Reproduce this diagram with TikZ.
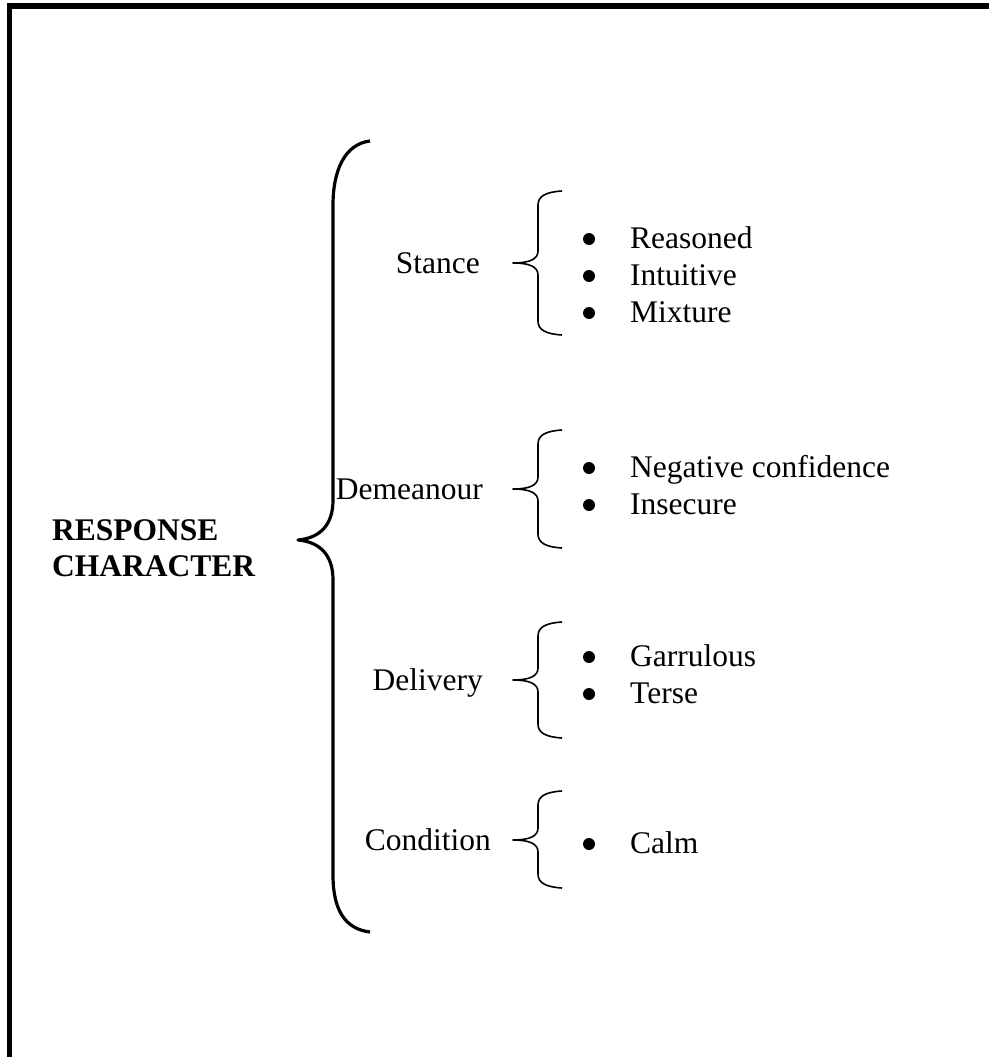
\documentclass[tikz,border=0pt]{standalone}
\usepackage{fontspec}
\setmainfont{Liberation Serif}

\tikzset{
  lbl/.style={inner sep=0pt, font=\fontsize{31.5}{36}\selectfont},
  head/.style={lbl, font=\fontsize{31.5}{36}\selectfont\bfseries, align=left},
  dot/.style={circle, fill=black, inner sep=0pt, minimum size=12pt},
  bigbrace/.style={line width=3.2pt, line join=round},
  smallbrace/.style={line width=1.6pt, line join=round}
}

% small brace: #1 top, #2 bottom, #3 tip (all y)
\newcommand\grp[3]{%
  \draw[smallbrace] (562,#1) .. controls (546,#1+1) and (538,#1+5) .. (538,#1+14)
    -- (538,#3-12) .. controls (538,#3-4) and (530,#3) .. (513,#3)
    .. controls (530,#3) and (538,#3+4) .. (538,#3+12)
    -- (538,#2-14) .. controls (538,#2-5) and (546,#2-1) .. (562,#2);}

\begin{document}
\begin{tikzpicture}[x=1pt, y=-1pt]
  \useasboundingbox (0,0) rectangle (989,1057);
  % frame (top and left only)
  \draw[line width=5.5pt, line join=miter] (989,6) -- (9.5,6) -- (9.5,1057);

  % main brace
  \draw[bigbrace] (370,141) .. controls (345,144) and (333,170) .. (333,205)
    -- (333,500) .. controls (333,525) and (320,538) .. (298,540)
    .. controls (320,542) and (333,555) .. (333,580)
    -- (333,875) .. controls (333,910) and (345,929) .. (370,932);
  \node[head, anchor=west] (resp) at (52,548) {RESPONSE\\CHARACTER};

  % Stance
  \node[lbl, anchor=base east] (stance) at (480,273) {Stance};
  \grp{191}{335}{263}
  \foreach \t/\y [count=\i] in {Reasoned/248, Intuitive/285, Mixture/322}{
    \node[dot] (s\i) at (589,\y-9) {};
    \node[lbl, anchor=base west] (st\i) at (630,\y) {\t};
  }

  % Demeanour
  \node[lbl, anchor=base east] (demeanour) at (483,499) {Demeanour};
  \grp{430}{548}{489}
  \foreach \t/\y [count=\i] in {Negative confidence/477, Insecure/514}{
    \node[dot] (m\i) at (589,\y-9) {};
    \node[lbl, anchor=base west] (mt\i) at (630,\y) {\t};
  }

  % Delivery
  \node[lbl, anchor=base east] (delivery) at (483,690) {Delivery};
  \grp{622}{738}{680}
  \foreach \t/\y [count=\i] in {Garrulous/666, Terse/703}{
    \node[dot] (v\i) at (589,\y-9) {};
    \node[lbl, anchor=base west] (vt\i) at (630,\y) {\t};
  }

  % Condition
  \node[lbl, anchor=base east] (condition) at (491,850) {Condition};
  \grp{791}{888}{840}
  \node[dot] (c1) at (589,844) {};
  \node[lbl, anchor=base west] (ct1) at (630,853) {Calm};
\end{tikzpicture}
\end{document}
